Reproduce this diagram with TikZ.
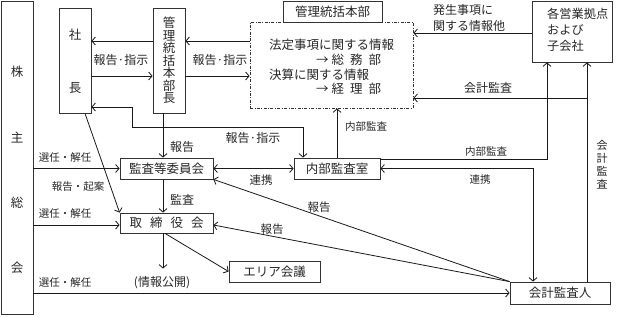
\documentclass[tikz,border=0pt]{standalone}
\usepackage{fontspec}
\newfontfamily\jp{Noto Sans CJK JP}
\usetikzlibrary{arrows.meta,calc}
\begin{document}
\begin{tikzpicture}[x=1pt,y=-1pt,
  >={Straight Barb[length=3.5pt,width=8pt,line width=0.8pt]},
  box/.style={draw=black!80, line width=0.8pt, inner sep=0pt, font=\jp\fontsize{12.5}{12.5}\selectfont, text=black!85},
  txt/.style={inner sep=0pt, font=\jp\fontsize{12}{12}\selectfont, text=black!85},
  sm/.style={inner sep=0pt, font=\jp\fontsize{10.5}{10.5}\selectfont, text=black!85},
  conn/.style={line width=0.8pt, draw=black!90},
]
\useasboundingbox (0,0) rectangle (620,316);

% boxes
\node[box, minimum width=32pt, minimum height=313pt] (kabu) at (17,157.5) {};
\node[txt, font=\jp\fontsize{12.5}{65.3}\selectfont, align=center] (kabut) at (17,170) {株\\主\\総\\会};
\node[box, minimum width=32pt, minimum height=105pt] (shacho) at (75,60.5) {};
\node[txt, font=\jp\fontsize{12.5}{53}\selectfont, align=center] (shachot) at (75,61.5) {社\\長};
\node[box, minimum width=32pt, minimum height=105pt, align=center, font=\jp\fontsize{12.5}{12.5}\selectfont] (kanri) at (169,60.5) {管\\理\\統\\括\\本\\部\\長};
\node[box, minimum width=99pt, minimum height=21pt] (honbu) at (332.5,11.5) {管理統括本部};
\node[box, minimum width=163pt, minimum height=86pt, dash pattern=on 3pt off 1.5pt on 0.8pt off 1.5pt] (info) at (331.5,65) {};
\node[txt, font=\jp\fontsize{12.5}{12.5}\selectfont, anchor=west] (i1) at (269,45) {法定事項に関する情報};
\node[txt, font=\jp\fontsize{12.5}{12.5}\selectfont, anchor=west] (i2) at (316,60) {→\hspace{3pt}総\hspace{6pt}務\hspace{6pt}部};
\node[txt, font=\jp\fontsize{12.5}{12.5}\selectfont, anchor=west] (i3) at (269,75) {決算に関する情報};
\node[txt, font=\jp\fontsize{12.5}{12.5}\selectfont, anchor=west] (i4) at (316,89) {→\hspace{3pt}経\hspace{6pt}理\hspace{6pt}部};
\node[box, minimum width=80pt, minimum height=61pt] (eigyo) at (572,31.5) {};
\node[txt, font=\jp\fontsize{12.2}{16}\selectfont, align=left, anchor=west] (eigyot) at (547,29.5) {各営業拠点\\および\\子会社};
\node[box, minimum width=93pt, minimum height=21pt] (kansa) at (166.5,168.5) {監査等委員会};
\node[box, minimum width=93pt, minimum height=20pt] (tori) at (166.5,223) {取\hspace{8pt}締\hspace{8pt}役\hspace{8pt}会};
\node[box, minimum width=86pt, minimum height=21pt] (naibu) at (337,168.5) {内部監査室};
\node[box, minimum width=91pt, minimum height=21pt] (area) at (274.5,271.5) {エリア会議};
\node[box, minimum width=100pt, minimum height=22pt] (kaikei) at (560,293) {会計監査人};
\node[txt] (joho) at (162,283) {(情報公開)};

% connectors top
\draw[conn,->] (kanri.west |- 0,41) -- (shacho.east |- 0,41);
\draw[conn,->] (shacho.east |- 0,76) -- (kanri.west |- 0,76);
\draw[conn,->] (info.west |- 0,41) -- (kanri.east |- 0,41);
\draw[conn,->] (kanri.east |- 0,76) -- (info.west |- 0,76);
\draw[conn,->] (eigyo.west |- 0,33) -- (info.east |- 0,33);
\coordinate (kv) at (587,98);
\draw[conn,->] (kv) -- (info.east |- kv);
\draw[conn,->] (kaikei.north -| kv) -- (eigyo.south -| kv);
\draw[conn,->] (naibu.east |- 0,159) -- (547,159) -- (eigyo.south -| 547,0);
\draw[conn,<->] (naibu.east) -- (533,168.5) -- (kaikei.north -| 533,0);
\draw[conn,->] (naibu.north) -- (info.south -| naibu.north);
\draw[conn,<->] (naibu.north -| 303,0) -- (303,127) -- (132,127) -- (132,107) -- (shacho.east |- 0,107);
\draw[conn,->] (kanri.south -| 163,0) -- (kansa.north -| 163,0);
\draw[conn,->] (kansa.south -| 163,0) -- (tori.north -| 163,0);
\draw[conn,->,shorten >=8pt] (tori.south -| 163,0) -- (joho.north -| 163,0);
\draw[conn,->] (tori.south -| 165,0) -- (area.west);
\draw[conn,->] (shacho.south -| 85,0) -- (tori.north west);
\draw[conn,->] (kabu.east |- kansa.west) -- (kansa.west);
\draw[conn,->] (kabu.east |- 0,225) -- (tori.west |- 0,225);
\draw[conn,->] (kabu.east |- kaikei.west) -- (kaikei.west);
\draw[conn,<->] (kansa.east) -- (naibu.west);
\draw[conn,->] (kaikei.north west) -- (kansa.south east);
\draw[conn,->] (kaikei.north west) -- ([yshift=-2pt]tori.east);

% labels
\node[txt] (l1) at (121,60) {報告·指示};
\node[txt] (l2) at (220,60) {報告·指示};
\node[txt, font=\jp\fontsize{12}{16}\selectfont, align=left, anchor=west] (l3) at (433,18) {発生事項に\\関する情報他};
\node[txt] (l4) at (488,88) {会計監査};
\node[sm, anchor=west] (l5) at (345,127) {内部監査};
\node[txt] (l6) at (253,138) {報告·指示};
\node[txt] (l7) at (182,147) {報告};
\node[txt] (l8) at (182,200) {監査};
\node[sm] (l9) at (486,152) {内部監査};
\node[sm] (l10) at (480,180) {連携};
\node[sm, font=\jp\fontsize{11}{13}\selectfont, align=center] (l11) at (602,165) {会\\計\\監\\査};
\node[sm] (l12) at (65,158) {選任・解任};
\node[sm] (l13) at (65,214) {選任・解任};
\node[sm] (l14) at (65,283) {選任・解任};
\node[sm] (l15) at (78,187) {報告・起案};
\node[txt, font=\jp\fontsize{11.5}{11.5}\selectfont] (l16) at (261,180) {連携};
\node[txt, font=\jp\fontsize{11.5}{11.5}\selectfont] (l17) at (319,207) {報告};
\node[txt, font=\jp\fontsize{11.5}{11.5}\selectfont] (l18) at (272,229) {報告};
\end{tikzpicture}
\end{document}
